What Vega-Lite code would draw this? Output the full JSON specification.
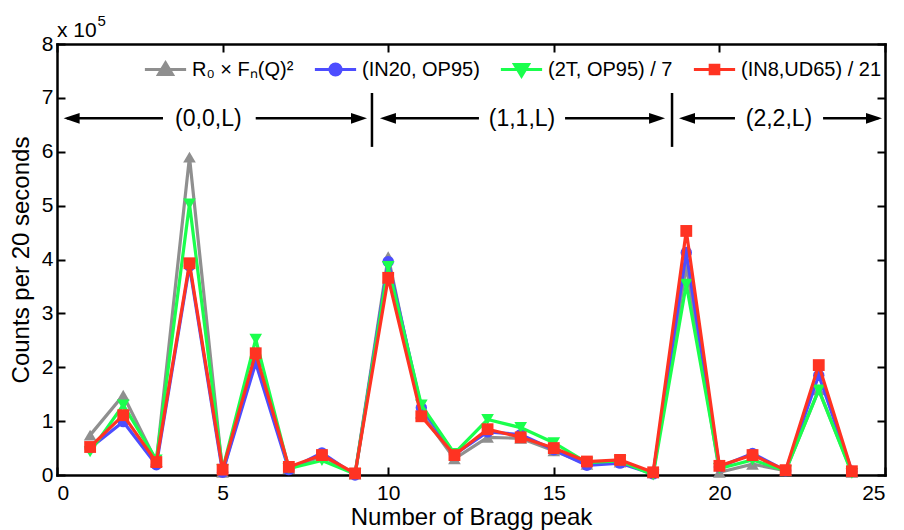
{
  "$schema": "https://vega.github.io/schema/vega-lite/v6.json",
  "width": 828,
  "height": 431,
  "autosize": "none",
  "padding": {"left": 57, "top": 44, "right": 19, "bottom": 55},
  "background": "white",
  "config": {
    "font": "Liberation Sans",
    "view": {"stroke": null},
    "axis": {
      "domainColor": "black", "domainWidth": 2.5, "domainCap": "square",
      "tickColor": "black", "tickWidth": 2, "tickSize": -8,
      "labelColor": "black", "labelFontSize": 21, "labelFont": "Liberation Sans",
      "titleColor": "black", "titleFont": "Liberation Sans", "titleFontWeight": "normal", "titleFontSize": 24,
      "grid": false
    },
    "legend": {
      "orient": "top-right", "direction": "horizontal", "columns": 4, "offset": 3, "gridAlign": "none",
      "labelFontSize": 20, "labelFont": "Liberation Sans", "labelColor": "black",
      "symbolSize": 1700, "symbolStrokeWidth": 3, "symbolOpacity": 1, "labelOffset": 4, "columnPadding": 14, "padding": 0
    }
  },
  "datasets": {
    "counts": [
      {"peak": 1, "R₀ × Fₙ(Q)²": 0.74, "(IN20, OP95)": 0.50, "(2T, OP95) / 7": 0.43, "(IN8,UD65) / 21": 0.52},
      {"peak": 2, "R₀ × Fₙ(Q)²": 1.48, "(IN20, OP95)": 0.99, "(2T, OP95) / 7": 1.30, "(IN8,UD65) / 21": 1.11},
      {"peak": 3, "R₀ × Fₙ(Q)²": 0.25, "(IN20, OP95)": 0.19, "(2T, OP95) / 7": 0.28, "(IN8,UD65) / 21": 0.24},
      {"peak": 4, "R₀ × Fₙ(Q)²": 5.90, "(IN20, OP95)": 3.88, "(2T, OP95) / 7": 5.03, "(IN8,UD65) / 21": 3.93},
      {"peak": 5, "R₀ × Fₙ(Q)²": 0.05, "(IN20, OP95)": 0.05, "(2T, OP95) / 7": 0.10, "(IN8,UD65) / 21": 0.10},
      {"peak": 6, "R₀ × Fₙ(Q)²": 2.20, "(IN20, OP95)": 2.08, "(2T, OP95) / 7": 2.52, "(IN8,UD65) / 21": 2.26},
      {"peak": 7, "R₀ × Fₙ(Q)²": 0.12, "(IN20, OP95)": 0.10, "(2T, OP95) / 7": 0.12, "(IN8,UD65) / 21": 0.15},
      {"peak": 8, "R₀ × Fₙ(Q)²": 0.35, "(IN20, OP95)": 0.41, "(2T, OP95) / 7": 0.27, "(IN8,UD65) / 21": 0.37},
      {"peak": 9, "R₀ × Fₙ(Q)²": 0.02, "(IN20, OP95)": 0.00, "(2T, OP95) / 7": 0.02, "(IN8,UD65) / 21": 0.03},
      {"peak": 10, "R₀ × Fₙ(Q)²": 4.05, "(IN20, OP95)": 3.96, "(2T, OP95) / 7": 3.87, "(IN8,UD65) / 21": 3.66},
      {"peak": 11, "R₀ × Fₙ(Q)²": 1.15, "(IN20, OP95)": 1.25, "(2T, OP95) / 7": 1.30, "(IN8,UD65) / 21": 1.09},
      {"peak": 12, "R₀ × Fₙ(Q)²": 0.30, "(IN20, OP95)": 0.38, "(2T, OP95) / 7": 0.40, "(IN8,UD65) / 21": 0.37},
      {"peak": 13, "R₀ × Fₙ(Q)²": 0.70, "(IN20, OP95)": 0.80, "(2T, OP95) / 7": 1.03, "(IN8,UD65) / 21": 0.85},
      {"peak": 14, "R₀ × Fₙ(Q)²": 0.68, "(IN20, OP95)": 0.75, "(2T, OP95) / 7": 0.88, "(IN8,UD65) / 21": 0.70},
      {"peak": 15, "R₀ × Fₙ(Q)²": 0.45, "(IN20, OP95)": 0.47, "(2T, OP95) / 7": 0.60, "(IN8,UD65) / 21": 0.50},
      {"peak": 16, "R₀ × Fₙ(Q)²": 0.20, "(IN20, OP95)": 0.18, "(2T, OP95) / 7": 0.23, "(IN8,UD65) / 21": 0.25},
      {"peak": 17, "R₀ × Fₙ(Q)²": 0.24, "(IN20, OP95)": 0.22, "(2T, OP95) / 7": 0.26, "(IN8,UD65) / 21": 0.28},
      {"peak": 18, "R₀ × Fₙ(Q)²": 0.04, "(IN20, OP95)": 0.02, "(2T, OP95) / 7": 0.00, "(IN8,UD65) / 21": 0.05},
      {"peak": 19, "R₀ × Fₙ(Q)²": 3.88, "(IN20, OP95)": 4.13, "(2T, OP95) / 7": 3.54, "(IN8,UD65) / 21": 4.53},
      {"peak": 20, "R₀ × Fₙ(Q)²": 0.05, "(IN20, OP95)": 0.15, "(2T, OP95) / 7": 0.12, "(IN8,UD65) / 21": 0.17},
      {"peak": 21, "R₀ × Fₙ(Q)²": 0.20, "(IN20, OP95)": 0.40, "(2T, OP95) / 7": 0.28, "(IN8,UD65) / 21": 0.37},
      {"peak": 22, "R₀ × Fₙ(Q)²": 0.08, "(IN20, OP95)": 0.08, "(2T, OP95) / 7": 0.08, "(IN8,UD65) / 21": 0.09},
      {"peak": 23, "R₀ × Fₙ(Q)²": 1.58, "(IN20, OP95)": 1.85, "(2T, OP95) / 7": 1.58, "(IN8,UD65) / 21": 2.04},
      {"peak": 24, "R₀ × Fₙ(Q)²": 0.05, "(IN20, OP95)": 0.07, "(2T, OP95) / 7": 0.03, "(IN8,UD65) / 21": 0.07}
    ],
    "segments": [
      {"peak": 0.3, "peak_end": 3.2, "counts": 6.62},
      {"peak": 6.0, "peak_end": 9.2, "counts": 6.62},
      {"peak": 9.9, "peak_end": 12.74, "counts": 6.62},
      {"peak": 15.34, "peak_end": 18.2, "counts": 6.62},
      {"peak": 18.9, "peak_end": 20.47, "counts": 6.62},
      {"peak": 23.13, "peak_end": 24.8, "counts": 6.62}
    ],
    "separators": [
      {"peak": 9.51, "counts": 6.09, "counts_end": 7.09},
      {"peak": 18.57, "counts": 6.09, "counts_end": 7.09}
    ],
    "arrowheads": [
      {"peak": 0.2, "counts": 6.62, "dir": "left"},
      {"peak": 9.75, "counts": 6.62, "dir": "left"},
      {"peak": 18.78, "counts": 6.62, "dir": "left"},
      {"peak": 9.36, "counts": 6.62, "dir": "right"},
      {"peak": 18.36, "counts": 6.62, "dir": "right"},
      {"peak": 24.91, "counts": 6.62, "dir": "right"}
    ],
    "regions": [
      {"label": "(0,0,L)", "peak": 4.57, "counts": 6.6},
      {"label": "(1,1,L)", "peak": 14.04, "counts": 6.6},
      {"label": "(2,2,L)", "peak": 21.8, "counts": 6.6}
    ]
  },
  "resolve": {"axis": {"x": "independent", "y": "independent"}},
  "layer": [
    {
      "layer": [
        {
          "data": {"name": "counts"},
          "transform": [
            {"fold": ["R₀ × Fₙ(Q)²", "(IN20, OP95)", "(2T, OP95) / 7", "(IN8,UD65) / 21"], "as": ["series", "counts"]}
          ],
          "encoding": {
            "x": {"field": "peak", "type": "quantitative", "title": "Number of Bragg peak",
                  "scale": {"domain": [0, 25], "nice": false, "zero": false},
                  "axis": {"values": [0, 5, 10, 15, 20, 25], "labelPadding": 15, "titlePadding": 2}},
            "y": {"field": "counts", "type": "quantitative", "title": "Counts per 20 seconds",
                  "scale": {"domain": [0, 8], "nice": false},
                  "axis": {"values": [0, 1, 2, 3, 4, 5, 6, 7, 8], "labelPadding": 12, "titlePadding": 8}}
          },
          "layer": [
            {"transform": [{"filter": {"field": "series", "equal": "R₀ × Fₙ(Q)²"}}],
             "layer": [
               {"mark": {"type": "line", "strokeWidth": 3.2, "color": "#8f8f8f"}},
               {"mark": {"type": "point", "filled": true, "opacity": 1, "size": 160, "shape": "triangle-up", "color": "#8f8f8f"}}
             ]},
            {"transform": [{"filter": {"field": "series", "equal": "(IN20, OP95)"}}],
             "layer": [
               {"mark": {"type": "line", "strokeWidth": 3.2, "color": "#4d4dff"}},
               {"mark": {"type": "point", "filled": true, "opacity": 1, "size": 130, "shape": "circle", "color": "#4d4dff"}}
             ]},
            {"transform": [{"filter": {"field": "series", "equal": "(2T, OP95) / 7"}}],
             "layer": [
               {"mark": {"type": "line", "strokeWidth": 3.2, "color": "#1aff4d"}},
               {"mark": {"type": "point", "filled": true, "opacity": 1, "size": 160, "shape": "triangle-down", "color": "#1aff4d"}}
             ]},
            {"transform": [{"filter": {"field": "series", "equal": "(IN8,UD65) / 21"}}],
             "layer": [
               {"mark": {"type": "line", "strokeWidth": 3.2, "color": "#ff3322"}},
               {"mark": {"type": "point", "filled": true, "opacity": 1, "size": 140, "shape": "square", "color": "#ff3322"}}
             ]}
          ]
        },
        {
          "data": {"name": "segments"},
          "mark": {"type": "rule", "color": "black", "strokeWidth": 2.5},
          "encoding": {
            "x": {"field": "peak", "type": "quantitative", "title": "Number of Bragg peak"},
            "x2": {"field": "peak_end"},
            "y": {"field": "counts", "type": "quantitative", "title": "Counts per 20 seconds"}
          }
        },
        {
          "data": {"name": "separators"},
          "mark": {"type": "rule", "color": "black", "strokeWidth": 2.5},
          "encoding": {
            "x": {"field": "peak", "type": "quantitative", "title": "Number of Bragg peak"},
            "y": {"field": "counts", "type": "quantitative", "title": "Counts per 20 seconds"},
            "y2": {"field": "counts_end"}
          }
        },
        {
          "data": {"name": "arrowheads"},
          "transform": [{"filter": {"field": "dir", "equal": "left"}}],
          "mark": {"type": "point", "filled": true, "color": "black", "opacity": 1, "size": 1024, "shape": "M0,0L1,-0.34L1,0.34Z"},
          "encoding": {
            "x": {"field": "peak", "type": "quantitative", "title": "Number of Bragg peak"},
            "y": {"field": "counts", "type": "quantitative", "title": "Counts per 20 seconds"}
          }
        },
        {
          "data": {"name": "arrowheads"},
          "transform": [{"filter": {"field": "dir", "equal": "right"}}],
          "mark": {"type": "point", "filled": true, "color": "black", "opacity": 1, "size": 1024, "shape": "M0,0L-1,-0.34L-1,0.34Z"},
          "encoding": {
            "x": {"field": "peak", "type": "quantitative", "title": "Number of Bragg peak"},
            "y": {"field": "counts", "type": "quantitative", "title": "Counts per 20 seconds"}
          }
        },
        {
          "data": {"name": "regions"},
          "mark": {"type": "text", "fontSize": 23, "font": "Liberation Sans", "color": "black", "align": "center", "baseline": "middle"},
          "encoding": {
            "x": {"field": "peak", "type": "quantitative", "title": "Number of Bragg peak"},
            "y": {"field": "counts", "type": "quantitative", "title": "Counts per 20 seconds"},
            "text": {"field": "label"}
          }
        },
        {
          "data": {"values": [{"t": "x 10"}]},
          "mark": {"type": "text", "fontSize": 21, "font": "Liberation Sans", "color": "black", "align": "left", "baseline": "middle"},
          "encoding": {
            "x": {"datum": 0, "type": "quantitative"},
            "y": {"datum": 8.24, "type": "quantitative"},
            "text": {"field": "t"}
          }
        },
        {
          "data": {"values": [{"t": "5"}]},
          "mark": {"type": "text", "fontSize": 15, "font": "Liberation Sans", "color": "black", "align": "left", "baseline": "middle"},
          "encoding": {
            "x": {"datum": 1.22, "type": "quantitative"},
            "y": {"datum": 8.43, "type": "quantitative"},
            "text": {"field": "t"}
          }
        }
      ]
    },
    {
      "data": {"name": "counts"},
      "transform": [
        {"fold": ["R₀ × Fₙ(Q)²", "(IN20, OP95)", "(2T, OP95) / 7", "(IN8,UD65) / 21"], "as": ["series", "counts"]}
      ],
      "mark": {"type": "point", "filled": true, "opacity": 0},
      "encoding": {
        "x": {"field": "peak", "type": "quantitative", "scale": {"domain": [0, 25], "nice": false, "zero": false},
              "axis": {"orient": "top", "labels": false, "title": null, "values": [0, 5, 10, 15, 20, 25]}},
        "y": {"field": "counts", "type": "quantitative", "scale": {"domain": [0, 8], "nice": false},
              "axis": {"orient": "right", "labels": false, "title": null, "values": [0, 1, 2, 3, 4, 5, 6, 7, 8]}},
        "shape": {"field": "series", "type": "nominal",
                  "scale": {"domain": ["R₀ × Fₙ(Q)²", "(IN20, OP95)", "(2T, OP95) / 7", "(IN8,UD65) / 21"],
                            "range": ["M-1,0H1M0,-0.32L0.34,0.24H-0.34Z",
                                      "M-1,0H1M0.27,0A0.27,0.27,0,1,1,-0.27,0A0.27,0.27,0,1,1,0.27,0Z",
                                      "M-1,0H1M0,0.32L0.34,-0.24H-0.34Z",
                                      "M-1,0H1M-0.21,-0.21H0.21V0.21H-0.21Z"]},
                  "legend": {"title": null}},
        "fill": {"field": "series", "type": "nominal",
                 "scale": {"domain": ["R₀ × Fₙ(Q)²", "(IN20, OP95)", "(2T, OP95) / 7", "(IN8,UD65) / 21"],
                           "range": ["#8f8f8f", "#4d4dff", "#1aff4d", "#ff3322"]},
                 "legend": {"title": null}},
        "stroke": {"field": "series", "type": "nominal",
                   "scale": {"domain": ["R₀ × Fₙ(Q)²", "(IN20, OP95)", "(2T, OP95) / 7", "(IN8,UD65) / 21"],
                             "range": ["#8f8f8f", "#4d4dff", "#1aff4d", "#ff3322"]},
                   "legend": {"title": null}}
      }
    }
  ]
}
